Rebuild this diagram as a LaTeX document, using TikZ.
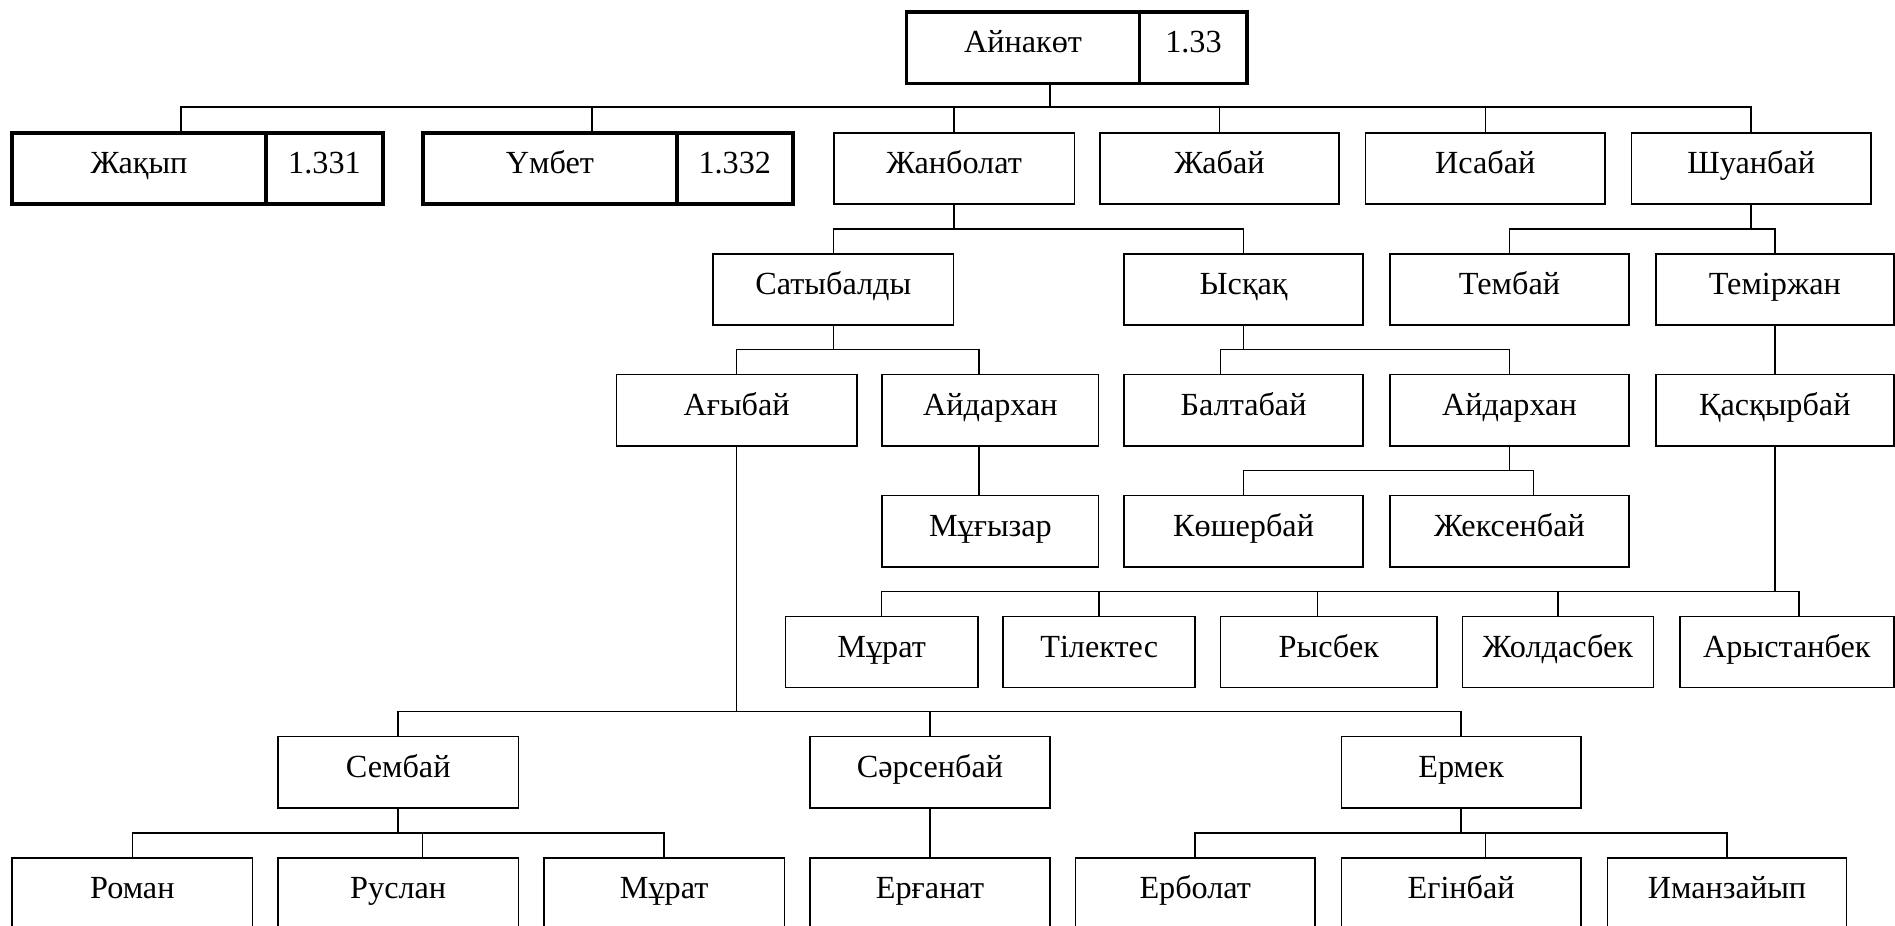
\documentclass[tikz,border=0pt]{standalone}
\usepackage{fontspec}
\setmainfont{Liberation Serif}
\usetikzlibrary{calc}
\begin{document}
\begin{tikzpicture}[x=0.6pt,y=-0.6pt,
  box/.style={draw, line width=0.8pt, minimum width=#1*0.6pt, minimum height=59*0.6pt, inner sep=0pt, text height=0.662em, text depth=1.5pt, font=\fontsize{16}{18}\selectfont},
  tbox/.style={box=#1, line width=1.8pt},
  con/.style={line width=0.8pt}]
\useasboundingbox (0,0) rectangle (1568,766);
\clip (0,0) rectangle (1568,766);
% row 0
\node[tbox=193] (rootN) at (846.5,39.5) {Айнакөт};
\node[tbox=89] (rootV) at (987.5,39.5) {1.33};
% row 1
\node[tbox=210] (jakN) at (115,139.5) {Жақып};
\node[tbox=97] (jakV) at (268.5,139.5) {1.331};
\node[tbox=210] (umbN) at (455,139.5) {Үмбет};
\node[tbox=96] (umbV) at (608,139.5) {1.332};
\node[box=199] (zhanb) at (789.5,139.5) {Жанболат};
\node[box=198] (zhab) at (1009,139.5) {Жабай};
\node[box=198] (isab) at (1229,139.5) {Исабай};
\node[box=198] (shuan) at (1449,139.5) {Шуанбай};
% row 2
\node[box=199] (saty) at (689.5,239.5) {Сатыбалды};
\node[box=198] (ysq) at (1029,239.5) {Ысқақ};
\node[box=198] (temb) at (1249,239.5) {Тембай};
\node[box=197] (temir) at (1468.5,239.5) {Теміржан};
% row 3
\node[box=199] (agyb) at (609.5,339.5) {Ағыбай};
\node[box=179] (aidar) at (819.5,339.5) {Айдархан};
\node[box=198] (balt) at (1029,339.5) {Балтабай};
\node[box=198] (aidarB) at (1249,339.5) {Айдархан};
\node[box=197] (kask) at (1468.5,339.5) {Қасқырбай};
% row 4
\node[box=179] (mugyz) at (819.5,439.5) {Мұғызар};
\node[box=198] (kosh) at (1029,439.5) {Көшербай};
\node[box=198] (zheks) at (1249,439.5) {Жексенбай};
% row 5
\node[box=159] (murat) at (729.5,539.5) {Мұрат};
\node[box=159] (tilek) at (909.5,539.5) {Тілектес};
\node[box=179] (rysb) at (1099.5,539.5) {Рысбек};
\node[box=158] (zhold) at (1289,539.5) {Жолдасбек};
\node[box=177] (aryst) at (1478.5,539.5) {Арыстанбек};
% row 6
\node[box=199] (semb) at (329.5,639) {Сембай};
\node[box=199] (sars) at (769.5,639) {Сәрсенбай};
\node[box=198] (erm) at (1209,639) {Ермек};
% row 7
\node[box=199] (roman) at (109.5,739.5) {Роман};
\node[box=199] (rusl) at (329.5,739.5) {Руслан};
\node[box=199] (muratB) at (549.5,739.5) {Мұрат};
\node[box=199] (ergan) at (769.5,739.5) {Ерғанат};
\node[box=198] (erbol) at (989,739.5) {Ерболат};
\node[box=198] (egin) at (1209,739.5) {Егінбай};
\node[box=198] (iman) at (1429,739.5) {Иманзайып};
% connectors: root family
\draw[con] ($(rootN.south)+(22.5,0)$) -- ($(rootN.south |- zhanb.north)+(22.5,-20)$);
\draw[con] ($(jakN.north)+(35,0)$) -- ++(0,-20) -| (shuan.north);
\draw[con] ($(umbN.north)+(35,0)$) -- ++(0,-20);
\draw[con] (zhanb.north) -- ++(0,-20);
\draw[con] (zhab.north) -- ++(0,-20);
\draw[con] (isab.north) -- ++(0,-20);
% Жанболат
\draw[con] (zhanb.south) -- ($(zhanb.south |- saty.north)+(0,-20)$);
\draw[con] (saty.north) -- ++(0,-20) -| (ysq.north);
% Шуанбай
\draw[con] (shuan.south) -- ($(shuan.south |- temb.north)+(0,-20)$);
\draw[con] (temb.north) -- ++(0,-20) -| (temir.north);
% Сатыбалды
\draw[con] (saty.south) -- ($(saty.south |- agyb.north)+(0,-20)$);
\draw[con] (agyb.north) -- ++(0,-20) -| ($(aidar.north)+(-9.5,0)$);
% Ысқақ
\draw[con] (ysq.south) -- ($(ysq.south |- balt.north)+(0,-20)$);
\draw[con] ($(balt.north)+(-19,0)$) -- ++(0,-20) -| (aidarB.north);
% Теміржан
\draw[con] (temir.south) -- (kask.north);
% Айдархан -> Мұғызар
\draw[con] ($(aidar.south)+(-9.5,0)$) -- ($(mugyz.north)+(-9.5,0)$);
% Айдархан (2)
\draw[con] (aidarB.south) -- ($(aidarB.south |- kosh.north)+(0,-20)$);
\draw[con] (kosh.north) -- ++(0,-20) -| ($(zheks.north)+(20,0)$);
% Қасқырбай
\draw[con] (kask.south) -- ($(kask.south |- murat.north)+(0,-20)$);
\draw[con] (murat.north) -- ++(0,-20) -| ($(aryst.north)+(10,0)$);
\draw[con] (tilek.north) -- ++(0,-20);
\draw[con] ($(rysb.north)+(-9.5,0)$) -- ++(0,-20);
\draw[con] (zhold.north) -- ++(0,-20);
% Ағыбай
\draw[con] (agyb.south) -- ($(agyb.south |- semb.north)+(0,-20)$);
\draw[con] (semb.north) -- ++(0,-20) -| (erm.north);
\draw[con] (sars.north) -- ++(0,-20);
% Сембай
\draw[con] (semb.south) -- ($(semb.south |- roman.north)+(0,-20)$);
\draw[con] (roman.north) -- ++(0,-20) -| (muratB.north);
\draw[con] ($(rusl.north)+(20,0)$) -- ++(0,-20);
% Сәрсенбай
\draw[con] (sars.south) -- (ergan.north);
% Ермек
\draw[con] (erm.south) -- ($(erm.south |- erbol.north)+(0,-20)$);
\draw[con] (erbol.north) -- ++(0,-20) -| (iman.north);
\draw[con] ($(egin.north)+(20,0)$) -- ++(0,-20);
\end{tikzpicture}
\end{document}
